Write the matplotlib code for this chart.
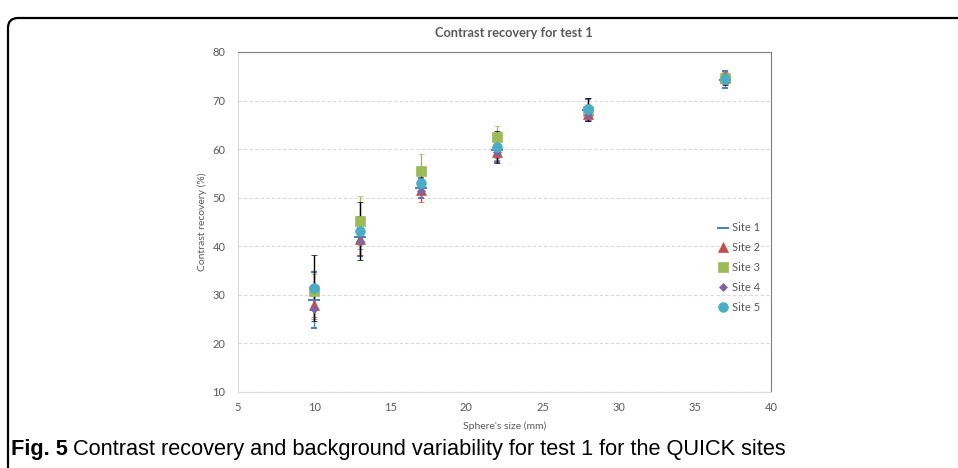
import matplotlib
matplotlib.use("Agg")
import matplotlib.pyplot as plt
from matplotlib.patches import FancyBboxPatch

# Sphere sizes (mm) and contrast recovery (%) per site
sizes = [10, 13, 17, 22, 28, 37]
site1 = [28.9, 42.0, 52.0, 59.8, 68.0, 74.3]
err1 = [5.8, 4.0, 2.0, 2.5, 2.3, 1.7]
site2 = [28.0, 41.5, 51.5, 59.5, 67.3, 74.7]
err2 = [2.5, 3.2, 2.4, 1.8, 1.2, 1.2]
site3 = [30.8, 45.3, 55.5, 62.5, 67.8, 74.6]
err3 = [3.5, 5.0, 3.5, 2.3, 1.4, 1.0]
site4 = [27.1, 41.0, 51.3, 59.4, 67.0, 74.8]
err4 = [2.0, 1.5, 1.3, 1.2, 1.0, 1.4]
site5 = [31.4, 43.2, 53.0, 60.4, 68.2, 74.5]
err5 = [6.8, 6.0, 2.0, 3.3, 2.4, 1.2]

labels = ["Site 1", "Site 2", "Site 3", "Site 4", "Site 5"]
x_ticks = [5, 10, 15, 20, 25, 30, 35, 40]
y_ticks = [10, 20, 30, 40, 50, 60, 70, 80]

grey = "#595959"
chart_font = ["Lato", "DejaVu Sans"]

fig = plt.figure(figsize=(9.58, 4.68), dpi=100)
ax = fig.add_axes([238 / 958, 1 - 392 / 468, (771 - 238) / 958, (392 - 52) / 468])

series = [
    (site1, err1, "_", "#4F81BD", "#4F81BD", 8, 1.5),
    (site2, err2, "^", "#C0504D", "#C0504D", 7, 0),
    (site3, err3, "s", "#9BBB59", "#9BBB59", 6.5, 0),
    (site4, err4, "D", "#8064A2", "#8064A2", 4.5, 0),
    (site5, err5, "o", "#4BACC6", "black", 7, 0),
]
for (vals, errs, mk, col, ecol, ms, mew), lab in zip(series, labels):
    ax.errorbar(sizes, vals, yerr=errs, fmt=mk, color=col, ecolor=ecol,
                markersize=ms, markeredgewidth=mew if mew else 0.5,
                markeredgecolor=col, elinewidth=1, capsize=2.5, capthick=1,
                label=lab, linestyle="none")

ax.set_xlim(5, 40)
ax.set_ylim(10, 80)
ax.set_xticks(x_ticks)
ax.set_yticks(y_ticks)
ax.tick_params(length=0, labelsize=8, colors=grey)
ax.tick_params(axis="y", pad=9)
ax.tick_params(axis="x", pad=7)
for lbl in ax.get_xticklabels() + ax.get_yticklabels():
    lbl.set_family(chart_font)
ax.yaxis.grid(True, linestyle=(0, (3, 2)), color="#d9d9d9", linewidth=0.8)
ax.set_axisbelow(True)
for side in ["left", "bottom"]:
    ax.spines[side].set_color("#d9d9d9")
for side in ["top", "right"]:
    ax.spines[side].set_color("#7f7f7f")

ax.set_xlabel("Sphere's size (mm)", fontsize=7.5, color=grey, family=chart_font, labelpad=6)
ax.set_ylabel("Contrast recovery (%)", fontsize=7.5, color=grey, family=chart_font, labelpad=4)
ax.set_title("Contrast recovery for test 1", fontsize=9.2, fontweight="bold",
             color=grey, family=chart_font, pad=11, x=0.517)

handles, lbls = ax.get_legend_handles_labels()
handles = [h[0] for h in handles]
leg = ax.legend(handles, lbls, loc="upper left", bbox_to_anchor=(0.884, 0.528),
                frameon=False, handlelength=0.6, handletextpad=0.55,
                labelspacing=0.8, prop={"family": chart_font, "size": 8})
for t in leg.get_texts():
    t.set_color(grey)

# outer rounded frame of the figure panel
frame = FancyBboxPatch((0.08, -0.5), 10.0, 5.0,
                       boxstyle="round,pad=0,rounding_size=0.1",
                       transform=fig.dpi_scale_trans, fill=False,
                       edgecolor="black", linewidth=1.6, clip_on=False)
fig.patches.append(frame)

# caption
cap_font = ["Liberation Sans", "DejaVu Sans"]
t1 = fig.text(11 / 958, 1 - 450 / 468, "Fig. 5", fontsize=15.7, fontweight="bold",
              family=cap_font, va="center", ha="left")
fig.canvas.draw()
bb = t1.get_window_extent(fig.canvas.get_renderer())
fig.text((bb.x1 + 5) / 958, 1 - 450 / 468,
         "Contrast recovery and background variability for test 1 for the QUICK sites",
         fontsize=15.7, family=cap_font, va="center", ha="left")

fig.savefig("out.png", dpi=100)
